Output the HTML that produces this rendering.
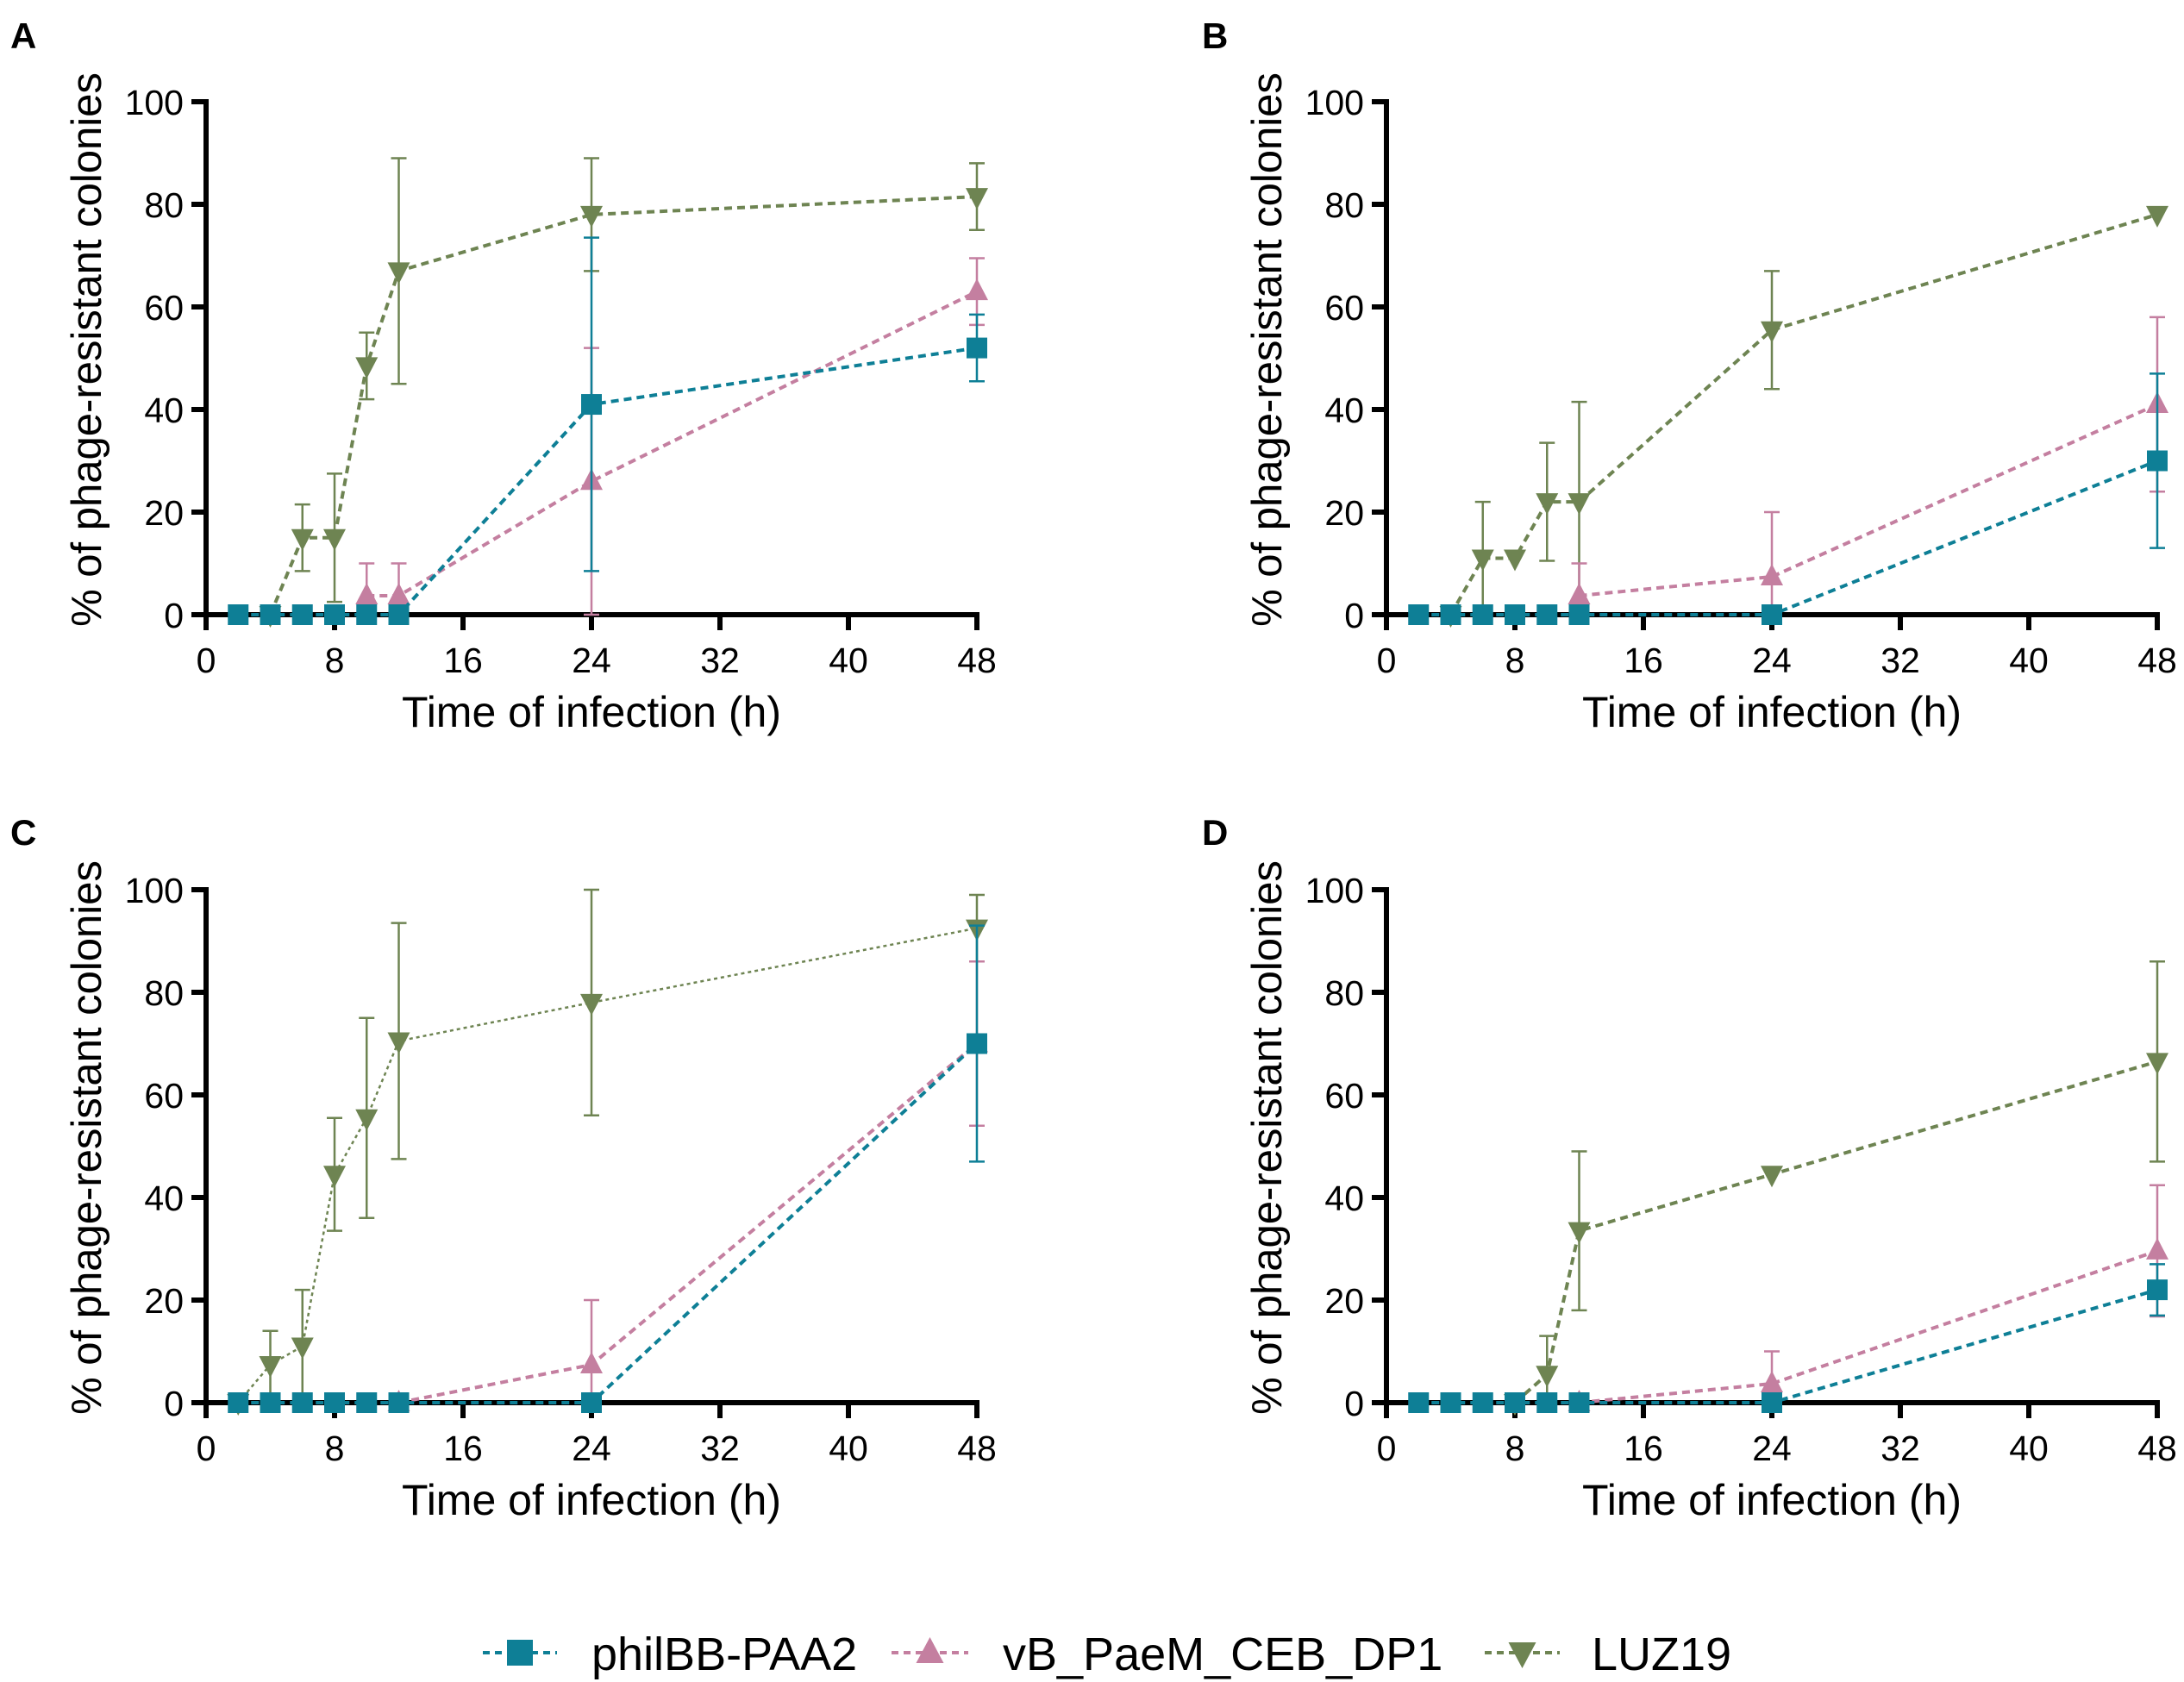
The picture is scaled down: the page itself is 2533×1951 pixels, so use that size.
<!DOCTYPE html>
<html><head><meta charset="utf-8"><style>
html,body{margin:0;padding:0;background:#fff;}
svg{display:block;font-family:"Liberation Sans",Arial,sans-serif;}
</style></head><body>
<svg id="chart" width="2533" height="1951" viewBox="0 0 2533 1951" xmlns="http://www.w3.org/2000/svg"></svg>
<script>
const times = [2,4,6,8,10,12,24,48];
const xTicks = [0,8,16,24,32,40,48];
const yTicks = [0,20,40,60,80,100];
// Panel A
const aPhi = [0,0,0,0,0,0,41,52];
const aPhiErr = [0,0,0,0,0,0,32.5,6.5];
const aDp1 = [null,null,null,null,3.7,3.7,26,63];
const aDp1Err = [0,0,0,0,6.3,6.3,26,6.5];
const aLuz = [null,0,15,15,48.5,67,78,81.5];
const aLuzErr = [0,0,6.5,12.5,6.5,22,11,6.5];
// Panel B
const bPhi = [0,0,0,0,0,0,0,30];
const bPhiErr = [0,0,0,0,0,0,0,17];
const bDp1 = [null,null,null,null,null,3.7,7.4,41];
const bDp1Err = [0,0,0,0,0,6.3,12.6,17];
const bLuz = [null,0,11,11,22,22,55.5,78];
const bLuzErr = [0,0,11,0,11.5,19.5,11.5,0];
// Panel C
const cPhi = [0,0,0,0,0,0,0,70];
const cPhiErr = [0,0,0,0,0,0,0,23];
const cDp1 = [null,null,null,null,null,0,7.4,70];
const cDp1Err = [0,0,0,0,0,0,12.6,16];
const cLuz = [0,7.4,11,44.5,55.5,70.5,78,92.5];
const cLuzErr = [0,6.6,11,11,19.5,23,22,6.5];
// Panel D
const dPhi = [0,0,0,0,0,0,0,22];
const dPhiErr = [0,0,0,0,0,0,0,5];
const dDp1 = [null,null,null,null,null,0,3.7,29.6];
const dDp1Err = [0,0,0,0,0,0,6.3,12.8];
const dLuz = [null,null,null,0,5.5,33.5,44.5,66.5];
const dLuzErr = [0,0,0,0,7.5,15.5,0,19.5];

const C_PHI='#0e7f96', C_DP1='#c47fa0', C_LUZ='#6e8452';
const NS='http://www.w3.org/2000/svg';
const svg=document.getElementById('chart');
function mk(tag,attrs,parent){const e=document.createElementNS(NS,tag);for(const k in attrs)e.setAttribute(k,attrs[k]);(parent||svg).appendChild(e);return e;}

const panels=[
 {id:'a',label:'A',ox:239,oy:713,lx:12,ly:56,phi:aPhi,phiE:aPhiErr,dp:aDp1,dpE:aDp1Err,luz:aLuz,luzE:aLuzErr},
 {id:'b',label:'B',ox:1608,oy:713,lx:1394,ly:56,phi:bPhi,phiE:bPhiErr,dp:bDp1,dpE:bDp1Err,luz:bLuz,luzE:bLuzErr},
 {id:'c',label:'C',ox:239,oy:1627,lx:12,ly:980,phi:cPhi,phiE:cPhiErr,dp:cDp1,dpE:cDp1Err,luz:cLuz,luzE:cLuzErr,thin:true},
 {id:'d',label:'D',ox:1608,oy:1627,lx:1394,ly:980,phi:dPhi,phiE:dPhiErr,dp:dDp1,dpE:dDp1Err,luz:dLuz,luzE:dLuzErr}
];
const W=894,H=595;

panels.forEach(p=>{
 const g=mk('g',{});
 
 
 const xs=t=>p.ox+t/48*W, ys=v=>p.oy-v/100*H;
 const lab=mk('text',{x:p.lx,y:p.ly,'font-size':42,'font-weight':'bold'},g);
 lab.textContent=p.label;
 
 
 const yax=mk('line',{x1:p.ox,y1:ys(100)-3,x2:p.ox,y2:p.oy+18,stroke:'#000','stroke-width':6},g);
 
 
 const xax=mk('line',{x1:p.ox-17,y1:p.oy,x2:xs(48)+3,y2:p.oy,stroke:'#000','stroke-width':6},g);
 
 
 yTicks.forEach(v=>{
  mk('line',{x1:p.ox-17,y1:ys(v),x2:p.ox,y2:ys(v),stroke:'#000','stroke-width':6},g);
  const t=mk('text',{x:p.ox-26,y:ys(v)+15,'font-size':41,'text-anchor':'end'},g);
  t.textContent=v;
  
  
 });
 xTicks.forEach(v=>{
  mk('line',{x1:xs(v),y1:p.oy,x2:xs(v),y2:p.oy+18,stroke:'#000','stroke-width':6},g);
  const t=mk('text',{x:xs(v),y:p.oy+67,'font-size':41,'text-anchor':'middle'},g);
  t.textContent=v;
  
  
 });
 const xt=mk('text',{x:p.ox+447,y:p.oy+130,'font-size':50,'text-anchor':'middle'},g);
 xt.textContent='Time of infection (h)';
 
 
 const yt=mk('text',{x:0,y:0,'font-size':49,'text-anchor':'middle',transform:`translate(${p.ox-122},${p.oy-H/2-10}) rotate(-90)`},g);
 yt.textContent='% of phage-resistant colonies';
 
 

 const series=[
  {name:'luz19',vals:p.luz,errs:p.luzE,col:C_LUZ,shape:'down'},
  {name:'dp1',vals:p.dp,errs:p.dpE,col:C_DP1,shape:'up'},
  {name:'phiibb',vals:p.phi,errs:p.phiE,col:C_PHI,shape:'sq'}
 ];
 series.forEach(s=>{
  const sg=mk('g',{},g);
  
  
  times.forEach((t,i)=>{
   const v=s.vals[i]; if(v===null||!s.errs[i])return;
   const lo=Math.max(0,v-s.errs[i]), hi=Math.min(100,v+s.errs[i]);
   const eb=mk('path',{d:`M${xs(t)},${ys(lo)}V${ys(hi)}M${xs(t)-9},${ys(hi)}h18M${xs(t)-9},${ys(lo)}h18`,stroke:s.col,'stroke-width':2.5,fill:'none'},sg);
   
   
  });
  let d='';
  times.forEach((t,i)=>{const v=s.vals[i]; if(v===null)return; d+=(d?'L':'M')+xs(t)+','+ys(v);});
  const thin=p.thin&&s.name==='luz19';
  const ln=mk('path',{d:d,stroke:s.col,'stroke-width':thin?2.5:4,'stroke-dasharray':thin?'4,4':'9,6',fill:'none'},sg);
  
  
  times.forEach((t,i)=>{
   const v=s.vals[i]; if(v===null)return;
   const x=xs(t),y=ys(v); let m;
   if(s.shape==='sq') m=mk('rect',{x:x-12,y:y-12,width:24,height:24,fill:s.col},sg);
   else if(s.shape==='up') m=mk('path',{d:`M${x},${y-15}L${x+13},${y+10}L${x-13},${y+10}Z`,fill:s.col},sg);
   else m=mk('path',{d:`M${x},${y+15}L${x+13},${y-10}L${x-13},${y-10}Z`,fill:s.col},sg);
   
   
  });
 });
});

const lg=mk('g',{});


const legendItems=[
 {label:'philBB-PAA2',col:C_PHI,shape:'sq',x1:560,x2:646,tx:686},
 {label:'vB_PaeM_CEB_DP1',col:C_DP1,shape:'up',x1:1034,x2:1123,tx:1163},
 {label:'LUZ19',col:C_LUZ,shape:'down',x1:1722,x2:1809,tx:1846}
];
legendItems.forEach(it=>{
 const eg=mk('g',{},lg);
 
 
 const y=1917, cx=(it.x1+it.x2)/2;
 mk('line',{x1:it.x1,y1:y,x2:it.x2,y2:y,stroke:it.col,'stroke-width':4,'stroke-dasharray':'8,6'},eg);
 if(it.shape==='sq') mk('rect',{x:cx-15,y:y-15,width:30,height:30,fill:it.col},eg);
 else if(it.shape==='up') mk('path',{d:`M${cx},${y-18}L${cx+16},${y+12}L${cx-16},${y+12}Z`,fill:it.col},eg);
 else mk('path',{d:`M${cx},${y+18}L${cx+16},${y-12}L${cx-16},${y-12}Z`,fill:it.col},eg);
 const t=mk('text',{x:it.tx,y:y+20,'font-size':54},eg);
 t.textContent=it.label;
});
</script>
</body></html>
